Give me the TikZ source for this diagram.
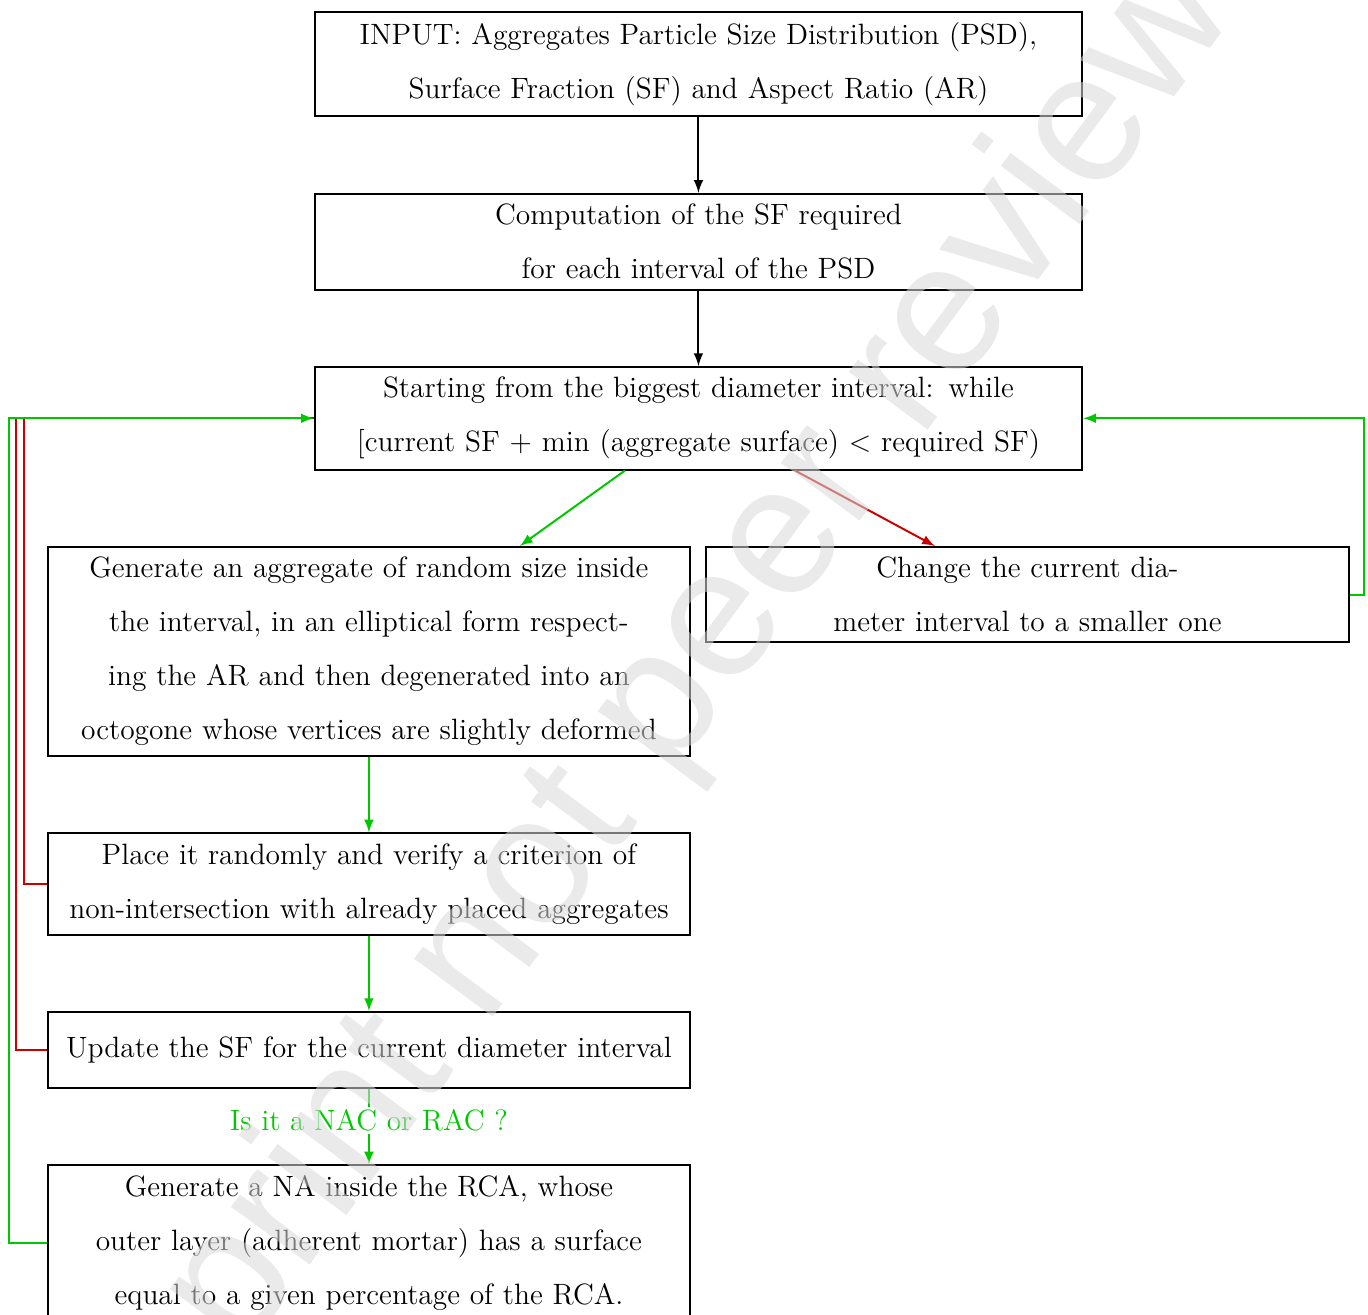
\documentclass[tikz,border=0pt]{standalone}
\usepackage{fontspec}
\newfontfamily\wmfont{Liberation Sans}
\usepackage{tikz}
\usetikzlibrary{calc}
\definecolor{flowgreen}{RGB}{0,200,0}
\definecolor{flowred}{RGB}{204,0,0}

\begin{document}
\begin{tikzpicture}
		\tikzstyle{every path}=[thick]
		\tikzstyle{MainSty}=[->,>=latex]
		\tikzstyle{YesSty}=[->,>=latex,color=flowgreen]
		\tikzstyle{NoSty}=[->,>=latex,color=flowred]
		\tikzstyle{LoopSty}=[color=flowred]

		\tikzstyle{flowbox}=[draw,text width=306.6pt,align=center,inner ysep=4.2pt,
				      minimum height=31pt,font=\fontsize{12}{22}\selectfont]
		\tikzstyle{flowbox1}=[flowbox,text width=255.6pt]
\edef\gapbox{30.8pt}

\useasboundingbox (-285.1pt,26.3pt) rectangle (273.3pt,-510.4pt);

\node[flowbox] at (0,0) (input) {INPUT: Aggregates Particle Size Distribution (PSD),\\ Surface Fraction (SF) and Aspect Ratio (AR)};
\node[flowbox,anchor=north,yshift=-\gapbox] at (input.south) (comp) {Computation of the SF required\\ for each interval of the PSD};
\node[flowbox,anchor=north,yshift=-\gapbox] at (comp.south) (start) {Starting from the biggest diameter interval: while\\ {[}current SF $+$ min (aggregate surface) $<$ required SF)};

\node[flowbox1,anchor=north,xshift=-134.5pt,yshift=-\gapbox] at (start.south) (gen) {Generate an aggregate of random size inside\\ the interval, in an elliptical form respect-\\ ing the AR and then degenerated into an\\ octogone whose vertices are slightly deformed};
\node[flowbox1,anchor=north,xshift=134.3pt,yshift=-\gapbox] at (start.south) (change) {Change the current dia-\\ meter interval to a smaller one};
\node[flowbox1,anchor=north,yshift=-\gapbox] at (gen.south) (place) {Place it randomly and verify a criterion of\\ non-intersection with already placed aggregates};
\node[flowbox1,anchor=north,yshift=-\gapbox] at (place.south) (update) {Update the SF for the current diameter interval};
\node[flowbox1,anchor=north,yshift=-\gapbox] at (update.south) (genna) {Generate a NA inside the RCA, whose\\ outer layer (adherent mortar) has a surface\\ equal to a given percentage of the RCA.};

\draw[MainSty] (input) -- (comp);
\draw[MainSty] (comp) -- (start);
\draw[YesSty] ($(start.south)+(-30pt,0)$) -- ($(gen.north)+(61.6pt,0)$);
\draw[NoSty] ($(start.south)+(39.4pt,0)$) -- ($(change.north)+(-37.8pt,0)$);
\draw[YesSty] (gen) -- (place);
\draw[YesSty] (place) -- (update);
\draw[YesSty] (update) -- node[fill=white,inner sep=1pt,text=flowgreen,font=\fontsize{12}{14}\selectfont,pos=0.42] (question) {Is it a NAC or RAC ?} (genna);

% back to the loop
\draw[YesSty] (change.east) -- ++(5.7pt,0) |- (start.east);
\draw[LoopSty] (place.west) -- ++(-9.4pt,0) |- (start.west);
\draw[LoopSty] (update.west) -- ++(-12.7pt,0) |- (start.west);
\draw[YesSty] (genna.west) -- ++(-15.5pt,0) |- (start.west);

\node[rotate=53.5,text=black!15,opacity=0.55,font=\fontsize{75.5}{75.5}\wmfont] at (-8.8pt,-254.9pt) (watermark) {Preprint not peer reviewed};

\end{tikzpicture}
\end{document}
